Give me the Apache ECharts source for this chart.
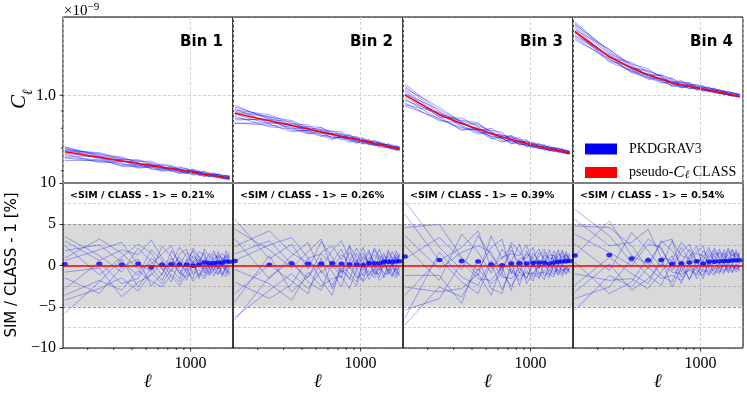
<!DOCTYPE html>
<html>
<head>
<meta charset="utf-8">
<script src="https://cdn.jsdelivr.net/npm/echarts@6/dist/echarts.min.js"></script>
<style>
html, body { margin: 0; padding: 0; background: #fff; }
#chart { width: 747px; height: 393px; }
</style>
</head>
<body>
<div id="chart"></div>
<script>
// multipole bin centres
const ells = [140, 240, 340, 440, 540, 640, 740, 840, 940, 1040, 1140, 1240, 1340, 1440, 1540, 1640, 1740, 1840];
const xMin = 136, xMax = 1940;
const xMinorTicks = [200, 300, 400, 500, 600, 700, 800, 900];
const xMajorTicks = [1000];
// top panels, C_ell in units of 1e-9
const topYMin = 0.552, topYMax = 1.70;
const topYMinorTicks = [0.6, 0.7, 0.8, 0.9];
const topYMajorTicks = [1.0];
const botYMin = -10, botYMax = 10;

const binNames = ['Bin 1', 'Bin 2', 'Bin 3', 'Bin 4'];
const meanDevLabels = ['0.21%', '0.26%', '0.39%', '0.54%'];

// pseudo-C_ell CLASS (x 1e-9)
const theoryBin1 = [0.682, 0.657, 0.641, 0.630, 0.621, 0.614, 0.608, 0.603, 0.598, 0.594, 0.590, 0.586, 0.583, 0.581, 0.578, 0.575, 0.573, 0.571];
const theoryBin2 = [0.885, 0.842, 0.815, 0.796, 0.780, 0.768, 0.758, 0.748, 0.741, 0.734, 0.727, 0.721, 0.717, 0.712, 0.707, 0.703, 0.699, 0.696];
const theoryBin3 = [1.003, 0.877, 0.826, 0.796, 0.772, 0.754, 0.741, 0.730, 0.721, 0.713, 0.707, 0.701, 0.696, 0.692, 0.688, 0.684, 0.680, 0.676];
const theoryBin4 = [1.541, 1.298, 1.202, 1.147, 1.115, 1.088, 1.074, 1.063, 1.053, 1.044, 1.035, 1.028, 1.020, 1.014, 1.007, 1.002, 0.997, 0.992];

// mean SIM / CLASS - 1 [%]
const meanBin1 = [0.16, 0.2, 0.08, 0.2, -0.2, 0.08, 0.16, 0.12, 0.08, -0.04, 0.08, 0.36, 0.28, 0.28, 0.36, 0.32, 0.48, 0.44];
const meanBin2 = [0.56, 0.08, 0.24, 0.2, 0.2, 0.28, 0.2, 0.16, 0.08, 0.04, 0.28, 0.28, 0.28, 0.44, 0.44, 0.44, 0.48, 0.52];
const meanBin3 = [1.08, 0.68, 0.56, 0.48, 0.12, 0.04, 0.24, 0.28, 0.24, 0.32, 0.36, 0.32, 0.2, 0.36, 0.44, 0.48, 0.52, 0.56];
const meanBin4 = [1.2, 1.28, 0.84, 0.64, 0.68, 0.2, 0.24, 0.36, 0.52, 0.2, 0.48, 0.44, 0.52, 0.56, 0.56, 0.6, 0.6, 0.64];

// single PKDGRAV3 runs, SIM / CLASS - 1 [%]
const simBin1 = [
  [3.5, 1.2, -0.8, 2.1, 0.5, -1.2, 1.8, 0.3, -0.6, 1.2, 0.4, 1.6, -0.3, 0.9, 1.1, 0.2, 1.3, 0.7],
  [-4.2, -2.8, -1.5, -3.1, -0.9, -2.2, -0.4, -1.6, 0.8, -1.1, -0.5, -1.3, 0.2, -0.8, -1.0, -0.2, -0.6, -0.9],
  [1.8, 2.5, 0.4, -1.2, 1.9, 0.6, -0.8, 1.4, 2.0, -0.3, 1.2, 0.1, 1.5, 0.6, -0.4, 1.0, 0.5, 1.2],
  [-1.5, -3.4, -0.2, 0.8, -2.5, -1.0, 0.9, -0.5, -1.8, 0.4, -1.3, -0.2, -0.9, 0.3, -0.7, -1.1, 0.1, -0.4],
  [0.6, 1.9, 2.8, 0.2, -0.7, 2.3, 1.1, -1.0, 0.5, 1.8, -0.2, 0.9, 0.4, -0.6, 1.3, 0.8, -0.3, 0.6],
  [-2.8, 0.4, -2.2, -1.6, 0.9, -0.3, -2.0, 0.6, -0.9, -1.5, 0.8, -0.7, -1.2, 0.5, -0.4, 0.3, -1.0, 0.0],
  [2.4, -1.1, 1.0, 2.6, 1.5, -0.5, 0.2, 2.2, 1.1, 0.3, 1.7, 1.2, -0.5, 1.4, 0.7, 1.5, 0.9, 1.6],
  [-3.6, -1.8, -3.0, -0.6, -1.9, -2.6, -1.1, -2.0, -0.3, -1.9, -0.9, -1.6, -0.4, -1.3, -0.1, -0.8, -1.4, -0.5],
  [0.9, 3.2, 1.5, -0.4, 0.2, 1.4, 2.4, 0.0, 1.6, 0.9, 0.1, 2.0, 1.0, 0.2, 1.7, 0.6, 1.1, 0.3],
  [-0.8, -0.3, -3.8, -2.0, -1.2, 0.5, -1.4, -2.4, -1.0, 0.6, -1.6, 0.3, -1.1, -0.5, 0.4, -1.3, -0.2, -1.2],
  [3.0, 0.6, 1.9, 1.3, 3.1, 0.9, -0.1, 1.0, -0.2, 2.1, 0.9, -0.4, 0.8, 1.8, 0.5, -0.1, 1.8, 0.9],
  [-5.8, -2.0, 0.8, -2.6, -0.3, -1.8, 0.4, -0.9, -1.4, -0.7, 0.2, -0.9, 0.6, -0.2, -1.1, 0.2, -0.5, 0.1]
];
const simBin2 = [
  [5.6, 0.8, 2.6, -0.4, 2.9, 1.0, -0.8, 1.6, 0.4, 2.2, -0.2, 1.3, 0.6, 1.5, -0.1, 0.9, 1.4, 0.4],
  [-6.3, -3.0, -1.0, -2.8, -0.6, -2.4, -0.3, -1.7, 0.7, -1.3, -0.6, -1.5, 0.1, -0.9, -1.1, -0.3, -0.8, -1.0],
  [3.2, -1.6, 1.2, 2.8, -0.9, 0.4, 2.0, -0.4, 1.5, 0.0, 1.6, 0.3, -0.6, 1.2, 0.8, -0.2, 1.1, 0.6],
  [-2.0, -4.0, -2.3, 0.9, -1.8, -3.6, 0.2, -1.0, -2.0, 0.5, -1.2, 0.1, -1.4, 0.2, -0.7, -1.2, 0.0, -0.5],
  [1.4, 3.0, 0.2, -1.5, 1.6, 2.4, 0.7, 2.3, -0.5, 1.1, 0.4, 1.9, 0.8, -0.3, 1.6, 0.9, -0.2, 1.3],
  [-4.4, 1.2, -3.2, -1.3, 0.5, -0.7, -2.6, 0.3, -1.2, -1.8, 0.6, -0.9, -1.0, 0.4, -0.6, 0.2, -1.2, 0.1],
  [4.4, 1.9, -0.3, 1.7, 3.2, -0.4, 1.3, 0.5, 2.1, 0.6, 1.9, -0.3, 1.2, 0.8, 0.2, 1.7, 0.6, 1.5],
  [-0.5, -2.2, -4.2, -0.8, -2.5, -1.6, -1.3, -2.8, -0.4, -2.0, -1.0, -0.4, -1.8, -1.2, 0.1, -0.9, -1.5, -0.6],
  [2.3, 4.2, 1.5, 0.3, -0.2, 1.8, 3.0, 0.8, 0.1, 1.5, 0.2, 2.1, 1.1, 0.1, 1.9, 0.7, 1.0, 0.4],
  [-3.4, 0.1, -1.9, -3.4, 0.9, -2.8, -0.6, -1.4, -2.5, 0.3, -1.7, -0.6, 0.3, -1.5, -0.4, -1.4, -0.3, -1.3],
  [0.6, 2.5, 3.4, 0.9, 1.4, 0.2, -1.5, 2.4, 0.9, -0.6, 1.0, 0.5, 2.0, 0.4, 1.2, -0.2, 1.8, 0.9],
  [-6.6, -1.4, 0.6, -2.0, -3.0, 0.4, -0.9, -0.2, -1.5, -1.0, 0.3, -1.1, -0.4, 0.6, -1.0, 0.3, -0.6, 0.0]
];
const simBin3 = [
  [7.8, 2.2, -0.5, 3.6, 1.2, -0.6, 1.9, 0.2, 1.4, 0.9, -0.3, 1.6, 0.5, 1.3, 0.1, 1.2, 0.8, 1.5],
  [-7.2, -2.6, -3.8, -0.4, -2.2, -1.0, -2.5, -0.8, -1.5, 0.2, -1.4, -0.5, -1.2, -0.2, -1.0, -0.5, -0.9, -0.3],
  [4.6, 5.0, 1.0, -1.2, 3.6, 0.8, 2.4, -0.9, 1.8, -0.2, 1.6, 0.9, -0.3, 1.8, 0.7, -0.1, 1.4, 0.8],
  [-3.6, 0.8, -2.0, -3.4, 0.3, -2.9, -0.4, -1.8, -0.6, -1.9, 0.4, -1.3, -0.7, 0.2, -1.2, 0.1, -0.6, -0.4],
  [2.4, -1.8, 3.8, 1.6, -0.9, 2.0, 0.5, 2.6, -0.2, 1.5, 0.6, 0.0, 1.9, 0.5, 1.1, 1.6, 0.2, 1.1],
  [-5.4, -4.0, 0.4, -1.6, -1.8, -0.2, -3.0, 0.6, -2.2, -0.8, -1.6, 0.5, -1.0, -1.4, 0.3, -1.0, -0.2, -0.8],
  [6.2, 0.6, 2.2, 4.2, -0.4, 1.0, 1.4, 1.2, 2.5, 0.1, 1.1, 2.0, 0.6, 0.1, 1.5, 0.9, 1.3, 0.4],
  [-1.2, -1.2, -4.6, 0.8, -2.8, -3.4, 0.3, -2.4, 0.2, -1.4, -0.9, -1.7, 0.2, -0.8, -0.5, -1.3, 0.0, -0.9],
  [0.8, 3.4, 0.8, -0.6, 2.2, 3.2, -1.0, 0.8, 0.9, 2.2, -0.4, 1.2, 1.0, 0.7, 1.9, 0.3, 1.7, 0.6],
  [-6.4, 1.6, -1.4, -2.4, 0.6, -1.4, -1.6, -0.3, -1.6, 0.4, -0.9, -0.8, -1.5, 0.3, -0.7, 0.0, -1.1, -0.3],
  [3.6, -0.4, 1.6, 2.4, 1.6, -1.0, 2.8, 1.6, 0.1, 1.0, 2.0, 0.4, 1.3, 1.2, 0.2, 1.9, 0.6, 1.3],
  [-2.6, -3.2, -2.8, -1.0, -3.6, 0.2, -0.8, -1.3, -0.9, -1.0, 0.1, -0.2, -0.5, -1.1, 0.0, -0.6, -0.4, 0.1]
];
const simBin4 = [
  [6.8, 3.6, 0.4, 3.2, 2.0, -0.2, 2.2, 0.6, 1.4, 1.2, 0.1, 1.8, 0.9, 1.5, 0.3, 1.4, 1.1, 1.6],
  [-5.4, -1.2, -2.6, -0.2, -1.6, -1.2, -1.8, -0.4, -1.0, 0.4, -1.1, -0.2, -0.8, 0.1, -0.7, -0.1, -0.5, 0.0],
  [4.8, 4.6, 2.4, -0.4, 3.0, 1.8, 0.2, 2.0, 0.5, 0.6, 1.8, 1.2, 0.1, 1.9, 1.0, 0.4, 1.6, 1.0],
  [-2.4, 1.0, -1.0, -2.2, 0.8, -2.6, -0.2, -1.6, 0.0, -1.6, 0.6, -1.0, -0.4, 0.4, -0.9, 0.3, -0.4, -0.2],
  [2.6, -0.6, 4.0, 1.8, -0.2, 3.0, 1.2, 0.8, 2.4, -0.3, 1.4, 0.6, 2.0, 0.6, 1.4, 1.8, 0.5, 1.3],
  [-4.0, -2.6, 0.8, -1.2, -2.4, 0.4, -2.2, 0.4, -1.6, -0.4, -1.2, 0.7, -0.6, -1.0, 0.5, -0.8, 0.1, -0.6],
  [5.6, 2.4, 2.8, 4.4, 1.0, 0.6, 2.8, 1.6, -0.4, 1.8, 0.9, 2.1, 0.9, 0.4, 1.8, 1.2, 1.5, 0.7],
  [0.4, -3.4, -2.0, 1.0, -1.2, -2.0, 0.6, -1.8, 0.6, -0.8, -0.6, -1.2, 0.4, -0.6, -0.3, -0.9, 0.2, -0.7],
  [1.2, 5.4, 1.2, 0.2, 2.8, 3.2, -0.8, 1.2, 1.6, 2.4, -0.2, 1.4, 1.4, 0.9, 2.1, 0.5, 1.9, 0.9],
  [-3.2, 0.2, -3.0, -1.6, 0.2, -0.8, -1.0, -0.6, -1.2, 0.6, -0.4, -0.6, -1.0, 0.5, -0.4, 0.2, -0.8, -0.1],
  [3.8, 1.6, 0.0, 2.6, 2.2, -0.6, 1.6, 2.6, 0.4, 1.0, 2.2, 0.2, 1.6, 1.3, 0.4, 2.0, 0.8, 1.5],
  [-1.0, -1.8, -1.6, -2.8, -0.8, 1.2, -1.4, -0.2, -0.6, -1.2, 0.4, -0.4, -0.2, -0.8, 0.2, -0.3, -0.2, 0.3]
];

const theory = [theoryBin1, theoryBin2, theoryBin3, theoryBin4];
const means = [meanBin1, meanBin2, meanBin3, meanBin4];
const sims = [simBin1, simBin2, simBin3, simBin4];

// layout
const colLeft = [63, 233, 403, 573];
const colW = 170;
const topRow = { top: 17, height: 166 };
const botRow = { top: 183, height: 165 };
const serif = "'Liberation Serif', 'DejaVu Serif', serif";
const sans = "'DejaVu Sans', sans-serif";
const BLUE = '#0000ff', RED = '#ff0000';
const gridLine = { color: '#c8c8c8', type: [3, 2], width: 0.8 };

const grids = [], xAxes = [], yAxes = [], series = [], graphics = [];

function tickSeries(xi, data, vertical, majors) {
  return {
    type: 'custom', xAxisIndex: xi, yAxisIndex: xi, silent: true, z: 6,
    data: data,
    renderItem: (params, api) => {
      const p = api.coord([api.value(0), api.value(1)]);
      const v = vertical ? api.value(0) : api.value(1);
      const len = majors.some(m => Math.abs(m - v) < 1e-6) ? 3.5 : 2;
      const shape = vertical
        ? { x1: p[0], y1: p[1], x2: p[0], y2: p[1] + len }
        : { x1: p[0], y1: p[1], x2: p[0] - len, y2: p[1] };
      return { type: 'line', shape: shape, style: { stroke: '#000', lineWidth: 0.8 } };
    }
  };
}

for (let i = 0; i < 4; i++) {
  grids.push({ left: colLeft[i], top: topRow.top, width: colW, height: topRow.height,
    show: true, borderColor: '#000', borderWidth: 1, z: 8 });
}
for (let i = 0; i < 4; i++) {
  grids.push({ left: colLeft[i], top: botRow.top, width: colW, height: botRow.height,
    show: true, borderColor: '#000', borderWidth: 1, z: 8 });
}

for (let i = 0; i < 4; i++) {
  // top row axes
  xAxes.push({
    type: 'log', logBase: 10, gridIndex: i, min: xMin, max: xMax, z: 9,
    axisLine: { show: true, onZero: false, lineStyle: { color: '#808080', width: 2 } },
    axisTick: { show: false }, axisLabel: { show: false },
    splitLine: { show: true, lineStyle: gridLine }
  });
  yAxes.push({
    type: 'log', logBase: 10, gridIndex: i, min: topYMin, max: topYMax,
    axisLine: { show: false }, axisTick: { show: false },
    axisLabel: {
      show: i === 0, margin: 7, color: '#000', fontFamily: serif, fontSize: 16,
      formatter: v => (Math.abs(v - 1) < 1e-6 ? '1.0' : '')
    },
    splitLine: { show: true, lineStyle: gridLine }
  });
}
for (let i = 0; i < 4; i++) {
  // bottom row axes
  xAxes.push({
    type: 'log', logBase: 10, gridIndex: 4 + i, min: xMin, max: xMax,
    axisLine: { show: false }, axisTick: { show: false },
    axisLabel: {
      margin: 8, color: '#000', fontFamily: serif, fontSize: 16,
      formatter: v => (xMajorTicks.some(m => Math.abs(m - v) < 1) ? String(Math.round(v)) : '')
    },
    splitLine: { show: true, lineStyle: gridLine },
    name: 'ℓ', nameLocation: 'middle', nameGap: 18,
    nameTextStyle: { fontFamily: serif, fontStyle: 'italic', fontWeight: 'bold', fontSize: 19, color: '#000' }
  });
  yAxes.push({
    type: 'value', gridIndex: 4 + i, min: botYMin, max: botYMax, interval: 5,
    axisLine: { show: false },
    axisTick: { show: i === 0, length: 3.5, lineStyle: { color: '#000', width: 0.8 } },
    axisLabel: {
      show: i === 0, margin: 7, color: '#000', fontFamily: serif, fontSize: 16,
      formatter: v => (v < 0 ? '\u2212' + (-v) : String(v))
    },
    splitLine: { show: true, lineStyle: gridLine },
    minorTick: { show: false, splitNumber: 2 },
    minorSplitLine: { show: true, lineStyle: gridLine }
  });
}

for (let i = 0; i < 4; i++) {
  const th = theory[i];
  // top: single runs
  sims[i].forEach(r => {
    series.push({
      type: 'line', name: 'PKDGRAV3', xAxisIndex: i, yAxisIndex: i, z: 2, silent: true,
      symbol: 'none', itemStyle: { color: BLUE },
      lineStyle: { color: BLUE, width: 0.9, opacity: 0.42 },
      data: ells.map((l, k) => [l, th[k] * (1 + r[k] / 100)])
    });
  });
  series.push({
    type: 'line', name: 'pseudo-Cℓ CLASS', xAxisIndex: i, yAxisIndex: i, z: 3, silent: true,
    symbol: 'none', itemStyle: { color: RED },
    lineStyle: { color: RED, width: 1.6 },
    data: ells.map((l, k) => [l, th[k]])
  });

  // bottom: +-5% band
  series.push({
    type: 'line', name: 'band', xAxisIndex: 4 + i, yAxisIndex: 4 + i, z: 1, silent: true,
    data: [],
    markArea: { silent: true, itemStyle: { color: 'rgba(0,0,0,0.15)' }, data: [[{ yAxis: -5 }, { yAxis: 5 }]] },
    markLine: { silent: true, symbol: 'none', label: { show: false },
      lineStyle: { color: '#8c8c8c', type: [3, 2], width: 0.8 }, data: [{ yAxis: -5 }, { yAxis: 5 }] }
  });
  sims[i].forEach(r => {
    series.push({
      type: 'line', name: 'PKDGRAV3', xAxisIndex: 4 + i, yAxisIndex: 4 + i, z: 2, silent: true,
      symbol: 'none', itemStyle: { color: BLUE },
      lineStyle: { color: BLUE, width: 0.9, opacity: 0.36 },
      data: ells.map((l, k) => [l, r[k]])
    });
  });
  series.push({
    type: 'line', name: 'zero', xAxisIndex: 4 + i, yAxisIndex: 4 + i, z: 3, silent: true,
    data: [],
    markLine: { silent: true, symbol: 'none', label: { show: false },
      lineStyle: { color: RED, type: 'solid', width: 1.6 }, data: [{ yAxis: 0 }] }
  });
  series.push({
    type: 'scatter', name: 'mean', xAxisIndex: 4 + i, yAxisIndex: 4 + i, z: 4, silent: true,
    symbol: 'circle', symbolSize: [6, 4.5], itemStyle: { color: BLUE },
    data: ells.map((l, k) => [l, means[i][k]])
  });

  // x ticks under every bottom panel
  series.push(tickSeries(4 + i, xMinorTicks.concat(xMajorTicks).map(v => [v, botYMin]), true, xMajorTicks));

  graphics.push({
    type: 'text', x: colLeft[i] + colW - 10, y: 42, z: 10,
    style: { text: binNames[i], font: 'bold 15px ' + sans, fill: '#000', align: 'right', verticalAlign: 'middle' }
  });
  graphics.push({
    type: 'text', x: colLeft[i] + 7, y: 196, z: 10,
    style: { text: '<SIM / CLASS - 1> = ' + meanDevLabels[i], font: 'bold 9.5px ' + sans, fill: '#000',
      align: 'left', verticalAlign: 'middle' }
  });
}
// y ticks of the top-left panel
series.push(tickSeries(0, topYMinorTicks.concat(topYMajorTicks).map(v => [xMin, v]), false, topYMajorTicks));

graphics.push({
  type: 'text', x: 64, y: 2, z: 10,
  style: {
    text: '{m|\u00d710}{s|\u22129}', fill: '#000',
    rich: {
      m: { fontFamily: serif, fontSize: 15, lineHeight: 17, verticalAlign: 'bottom' },
      s: { fontFamily: serif, fontSize: 11, lineHeight: 17, verticalAlign: 'top' }
    }
  }
});
graphics.push({
  type: 'text', x: 22, y: 99, rotation: Math.PI / 2, z: 10,
  style: {
    text: '{c|C}{l|ℓ}', fill: '#000', align: 'center', verticalAlign: 'middle',
    rich: {
      c: { fontFamily: serif, fontStyle: 'italic', fontSize: 21, lineHeight: 26, verticalAlign: 'top' },
      l: { fontFamily: serif, fontStyle: 'italic', fontSize: 14, lineHeight: 26, verticalAlign: 'bottom' }
    }
  }
});
graphics.push({
  type: 'text', x: 12, y: 265, rotation: Math.PI / 2, z: 10,
  style: { text: 'SIM / CLASS - 1 [%]', font: '15px ' + sans, fill: '#000', align: 'center', verticalAlign: 'middle' }
});

const chart = echarts.init(document.getElementById('chart'), null, { renderer: 'canvas' });
chart.setOption({
  animation: false,
  backgroundColor: '#fff',
  grid: grids,
  xAxis: xAxes,
  yAxis: yAxes,
  legend: {
    left: 580, top: 137, orient: 'vertical', icon: 'rect',
    itemWidth: 32, itemHeight: 11, itemGap: 8, selectedMode: false,
    textStyle: {
      fontFamily: serif, fontSize: 14, color: '#000', padding: [0, 0, 0, 7],
      rich: {
        n: { fontFamily: serif, fontSize: 14, color: '#000' },
        c: { fontFamily: serif, fontStyle: 'italic', fontSize: 17, color: '#000' },
        l: { fontFamily: serif, fontStyle: 'italic', fontSize: 11, color: '#000', padding: [6, 0, 0, 0] }
      }
    },
    formatter: n => (n === 'PKDGRAV3' ? n : '{n|pseudo-}{c|C}{l|ℓ}{n| CLASS}'),
    data: [
      { name: 'PKDGRAV3', itemStyle: { color: BLUE, opacity: 1 } },
      { name: 'pseudo-Cℓ CLASS', itemStyle: { color: RED, opacity: 1 } }
    ]
  },
  graphic: graphics,
  series: series
});
</script>
</body>
</html>
